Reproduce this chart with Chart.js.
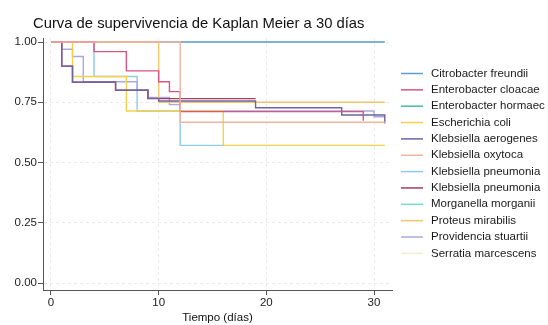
<!DOCTYPE html>
<html>
<head>
<meta charset="utf-8">
<script src="https://cdn.jsdelivr.net/npm/chart.js@4/dist/chart.umd.min.js"></script>
<style>
  html, body { margin: 0; padding: 0; background: #ffffff; }
  #wrap { width: 548px; height: 325px; }
</style>
</head>
<body>
<div id="wrap"><canvas id="km" width="548" height="325"></canvas></div>
<script>
// Textos
const titulo = 'Curva de supervivencia de Kaplan Meier a 30 días';
const tituloEjeX = 'Tiempo (días)';
const ticksX = [0, 10, 20, 30];
const ticksY = [0, 0.25, 0.5, 0.75, 1];

// Nombres de los grupos (orden de la leyenda)
const especies = [
  'Citrobacter freundii', 'Enterobacter cloacae', 'Enterobacter hormaec',
  'Escherichia coli', 'Klebsiella aerogenes', 'Klebsiella oxytoca',
  'Klebsiella pneumonia', 'Klebsiella pneumonia', 'Morganella morganii',
  'Proteus mirabilis', 'Providencia stuartii', 'Serratia marcescens'
];

// Curvas de supervivencia: pares [día, supervivencia estimada]
const citrobacterFreundii   = [[0, 1], [31, 1]];
const enterobacterCloacae   = [[0, 1], [4, 0.96], [7, 0.88], [10, 0.835], [11, 0.794], [12, 0.711], [29, 0.673]];
const enterobacterHormaec   = [[0, 1], [9, 1]];
const escherichiaColi       = [[0, 1], [2, 0.857], [7, 0.714], [16, 0.571], [31, 0.571]];
const klebsiellaAerogenes   = [[0, 1], [1, 0.9], [2, 0.833], [6, 0.8], [9, 0.766], [10, 0.755], [19, 0.727], [27, 0.697], [31, 0.662]];
const klebsiellaOxytoca     = [[0, 1], [12, 0.667], [31, 0.667]];
const klebsiellaPneumonia1  = [[0, 1], [4, 0.857], [8, 0.714], [12, 0.571], [16, 0.571]];
const klebsiellaPneumonia2  = [[0, 1], [1, 0.9], [2, 0.833], [6, 0.8], [9, 0.765], [19, 0.765]];
const morganellaMorganii    = [[0, 1], [5, 1]];
const proteusMirabilis      = [[0, 1], [10, 0.75], [31, 0.75]];
const providenciaStuartii   = [[0, 1], [1, 0.97], [2, 0.94], [3, 0.835], [8, 0.8], [9, 0.77], [11, 0.74], [12, 0.714], [30, 0.69], [31, 0.69]];
const serratiaMarcescens    = [[0, 1], [31, 1]];

const curvas = [
  citrobacterFreundii, enterobacterCloacae, enterobacterHormaec, escherichiaColi,
  klebsiellaAerogenes, klebsiellaOxytoca, klebsiellaPneumonia1, klebsiellaPneumonia2,
  morganellaMorganii, proteusMirabilis, providenciaStuartii, serratiaMarcescens
];

const colores = [
  '#5b9dd6', '#d9567f', '#3fbd9d', '#f3d24a', '#6f63a3', '#f2b3a0',
  '#8ec9ef', '#a3405f', '#74dfc7', '#f2c46c', '#a9a8e3', '#f4edcf'
];
// capa de dibujo (0 = encima)
const capas = [8, 1, 9, 4, 2, 0, 7, 3, 10, 5, 6, 11];

Chart.defaults.font.family = '"Liberation Sans", Arial, Helvetica, sans-serif';
Chart.defaults.color = '#222';

const datasets = curvas.map((c, i) => ({
  label: especies[i],
  data: c.map(p => ({ x: p[0], y: p[1] })),
  borderColor: colores[i],
  backgroundColor: colores[i],
  borderWidth: 1.4,
  stepped: true,
  pointRadius: 0,
  pointHoverRadius: 0,
  fill: false,
  order: capas[i]
}));

// Título y leyenda a la derecha
const decoracion = {
  id: 'decoracion',
  afterDraw(chart) {
    const ctx = chart.ctx;
    ctx.save();
    ctx.fillStyle = '#111';
    ctx.textAlign = 'left';
    ctx.textBaseline = 'alphabetic';
    ctx.font = '14.8px "Liberation Sans", Arial, sans-serif';
    ctx.fillText(titulo, 33, 28);
    ctx.font = '11.5px "Liberation Sans", Arial, sans-serif';
    ctx.textBaseline = 'middle';
    chart.data.datasets.forEach((ds, i) => {
      const y = 73.5 + i * 16.35;
      ctx.strokeStyle = ds.borderColor;
      ctx.lineWidth = 1.5;
      ctx.beginPath();
      ctx.moveTo(401, y);
      ctx.lineTo(423, y);
      ctx.stroke();
      ctx.fillStyle = '#1a1a1a';
      ctx.fillText(ds.label, 431, y);
    });
    ctx.restore();
  }
};

new Chart(document.getElementById('km'), {
  type: 'line',
  data: { datasets },
  options: {
    responsive: false,
    animation: false,
    devicePixelRatio: 1,
    layout: { padding: { left: 0, right: 156, top: 38, bottom: 0 } },
    plugins: {
      legend: { display: false },
      title: { display: false },
      tooltip: { enabled: false }
    },
    scales: {
      x: {
        type: 'linear',
        min: -0.74,
        max: 31.67,
        afterBuildTicks: s => { s.ticks = ticksX.map(v => ({ value: v })); },
        afterFit: s => { s.height = 35; },
        ticks: { font: { size: 11.5 }, color: '#222', padding: 1, maxRotation: 0 },
        grid: { color: '#ebebeb', tickColor: '#555', tickLength: 5, lineWidth: 1 },
        border: { color: '#555', width: 1, dash: [3, 3] },
        title: { display: true, text: tituloEjeX, font: { size: 11.5 }, color: '#111', padding: { top: 0, bottom: 0 } }
      },
      y: {
        type: 'linear',
        min: -0.029,
        max: 1.0166,
        afterBuildTicks: s => { s.ticks = ticksY.map(v => ({ value: v })); },
        afterFit: s => { s.width = 43; },
        ticks: { font: { size: 11.5 }, color: '#222', padding: 1, callback: v => Number(v).toFixed(2) },
        grid: { color: '#ebebeb', tickColor: '#555', tickLength: 5, lineWidth: 1 },
        border: { color: '#555', width: 1, dash: [3, 3] }
      }
    }
  },
  plugins: [decoracion]
});
</script>
</body>
</html>
